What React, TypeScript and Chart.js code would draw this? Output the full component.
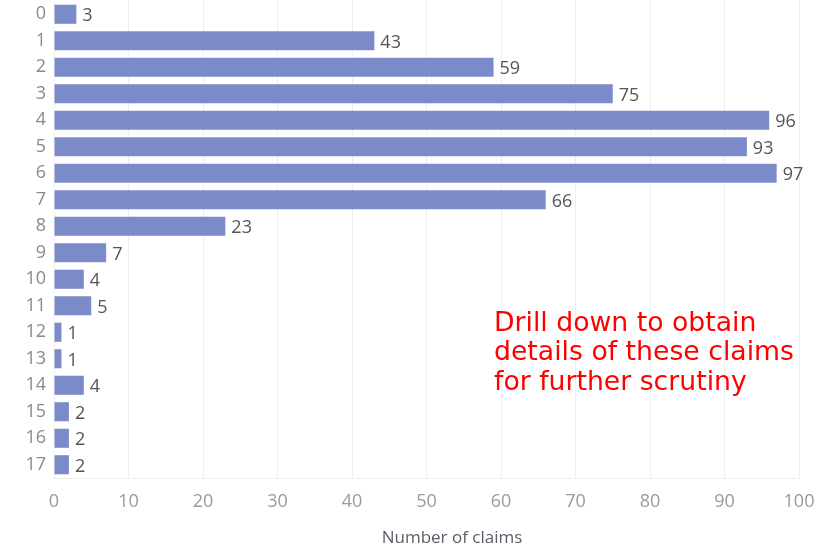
import React, { useEffect, useRef } from "react";
import { Chart, registerables } from "chart.js";

Chart.register(...registerables);

const categories = ["0","1","2","3","4","5","6","7","8","9","10","11","12","13","14","15","16","17"];
const claimCounts = [3, 43, 59, 75, 96, 93, 97, 66, 23, 7, 4, 5, 1, 1, 4, 2, 2, 2];
const xTickMax = 100;
const xTickStep = 10;
const xTitle = "Number of claims";
const noteLines = ["Drill down to obtain", "details of these claims", "for further scrutiny"];

const FONT = "'Open Sans', Lato, sans-serif";

const valueLabels = {
  id: "valueLabels",
  afterDatasetsDraw(chart: any) {
    const ctx = chart.ctx;
    const meta = chart.getDatasetMeta(0);
    ctx.save();
    ctx.font = "18px " + FONT;
    ctx.fillStyle = "#555";
    ctx.textAlign = "left";
    ctx.textBaseline = "middle";
    meta.data.forEach((bar: any, i: number) => {
      ctx.fillText(String(claimCounts[i]), bar.x + 6, bar.y + 2);
    });
    ctx.restore();
  },
};

const textOverlay = {
  id: "textOverlay",
  afterDraw(chart: any) {
    const ctx = chart.ctx;
    ctx.save();
    // axis title (offset to the right, as in the original)
    ctx.font = "17px " + FONT;
    ctx.fillStyle = "#5c5c66";
    ctx.textAlign = "center";
    ctx.textBaseline = "middle";
    ctx.fillText(xTitle, 452, 538);
    // annotation
    ctx.font = "26.7px 'DejaVu Sans', Verdana, sans-serif";
    ctx.fillStyle = "#ff0000";
    ctx.textAlign = "left";
    ctx.textBaseline = "alphabetic";
    noteLines.forEach((line, i) => {
      ctx.fillText(line, 494, 331 + i * 29.3);
    });
    ctx.restore();
  },
};

export default function App() {
  const ref = useRef<HTMLCanvasElement>(null);
  useEffect(() => {
    document.body.style.margin = "0";
    const chart = new Chart(ref.current!, {
      type: "bar",
      data: {
        labels: categories,
        datasets: [
          {
            data: claimCounts,
            backgroundColor: "#7b8bc9",
            borderWidth: 0,
            categoryPercentage: 1,
            barPercentage: 0.72,
          },
        ],
      },
      options: {
        indexAxis: "y",
        responsive: false,
        animation: false,
        layout: { padding: { left: 0, right: 19, top: 1, bottom: 0 } },
        plugins: { legend: { display: false }, tooltip: { enabled: false } },
        scales: {
          x: {
            min: 0,
            max: xTickMax,
            ticks: {
              stepSize: xTickStep,
              color: "#9a9a9a",
              font: { size: 18, family: FONT },
              padding: 13,
              maxRotation: 0,
            },
            grid: { color: "#eeeeee", drawTicks: false },
            border: { color: "#eeeeee" },
            title: { display: false, text: xTitle },
            afterFit(axis: any) {
              axis.height = 73;
              axis.paddingLeft = 0;
              axis.paddingRight = 0;
            },
          },
          y: {
            ticks: {
              color: "#8a8a8a",
              font: { size: 18, family: FONT },
              padding: 8,
            },
            grid: { display: false, drawTicks: false },
            border: { display: false },
            afterFit(axis: any) {
              axis.width = 54;
              axis.paddingTop = 0;
              axis.paddingBottom = 0;
            },
          },
        },
      },
      plugins: [valueLabels, textOverlay],
    });
    return () => chart.destroy();
  }, []);
  return (
    <div style={{ width: 818, height: 551 }}>
      <canvas ref={ref} width={818} height={551} />
    </div>
  );
}
